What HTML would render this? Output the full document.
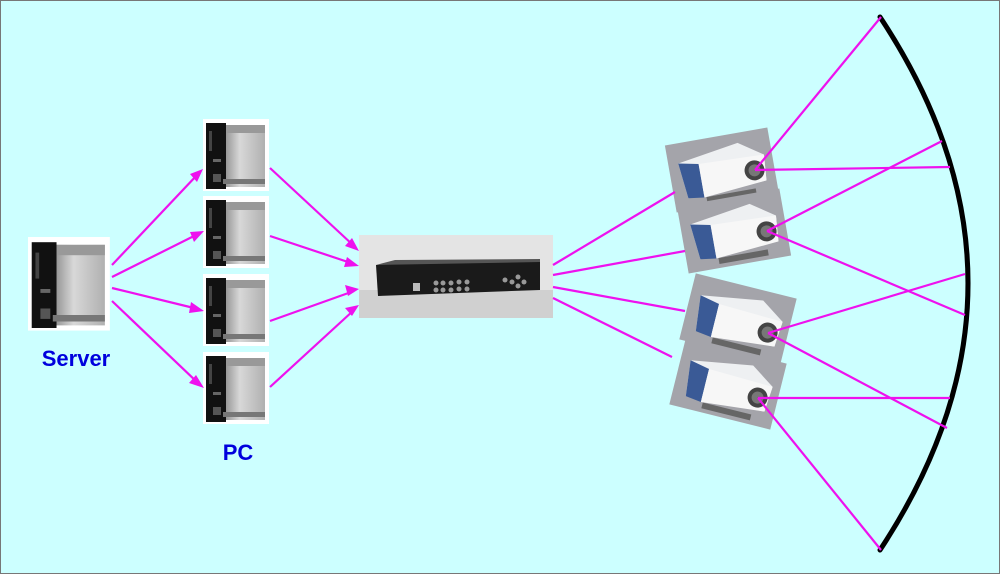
<!DOCTYPE html>
<html><head><meta charset="utf-8"><style>
html,body{margin:0;padding:0;background:#ccffff;}
svg{display:block;}
</style></head><body>
<svg width="1000" height="574" viewBox="0 0 1000 574" xmlns="http://www.w3.org/2000/svg">
<defs>
<linearGradient id="silver" x1="0" x2="1" y1="0" y2="0">
<stop offset="0" stop-color="#8a8a8a"/><stop offset="0.4" stop-color="#d8d8d8"/><stop offset="1" stop-color="#b0b0b0"/>
</linearGradient>
<g id="pc">
<rect x="0" y="0" width="66" height="72" fill="#fff"/>
<rect x="20" y="6" width="42" height="62" fill="url(#silver)"/>
<rect x="20" y="6" width="42" height="8" fill="#999"/>
<rect x="3" y="4" width="20" height="66" fill="#111"/>
<rect x="6" y="12" width="3" height="20" fill="#444"/>
<rect x="10" y="40" width="8" height="3" fill="#666"/>
<rect x="10" y="55" width="8" height="8" fill="#555"/>
<rect x="20" y="60" width="42" height="5" fill="#777"/>
</g>
<g id="proj">
<rect x="-52" y="-34" width="104" height="68" fill="#a4a4aa"/>
<path d="M-42,-14 L20,-24 L44,-8 L42,18 L-38,22 Z" fill="#eef0f2"/>
<path d="M-42,-14 L-22,-10 L-22,24 L-38,22 Z" fill="#3a5a96"/>
<path d="M-22,-10 L44,-8 L42,18 L-22,24 Z" fill="#f7f7f7"/>
<circle cx="32" cy="6" r="10" fill="#444"/>
<circle cx="32" cy="6" r="6" fill="#777"/>
<rect x="-20" y="24" width="50" height="6" fill="#666"/>
</g>
</defs>
<rect x="0.5" y="0.5" width="999" height="573" fill="#ccffff" stroke="#777" stroke-width="1"/>

<g transform="translate(28,237) scale(1.24,1.3)"><use href="#pc"/></g>
<text x="76" y="366" font-family="Liberation Sans, sans-serif" font-weight="bold" font-size="22" fill="#0000dd" text-anchor="middle">Server</text>

<use href="#pc" x="203" y="119"/>
<use href="#pc" x="203" y="196"/>
<use href="#pc" x="203" y="274"/>
<use href="#pc" x="203" y="352"/>
<text x="238" y="460" font-family="Liberation Sans, sans-serif" font-weight="bold" font-size="22" fill="#0000dd" text-anchor="middle">PC</text>

<rect x="359" y="235" width="194" height="83" fill="#e4e4e4"/>
<rect x="359" y="290" width="194" height="28" fill="#d0d0d0"/>
<path d="M376,265 L395,260 L540,259 L540,270 Z" fill="#555"/>
<path d="M376,265 L540,262 L540,290 L378,296 Z" fill="#1a1a1a"/>
<g fill="#999">
<circle cx="436" cy="283" r="2.5"/><circle cx="443" cy="283" r="2.5"/><circle cx="451" cy="283" r="2.5"/><circle cx="459" cy="282" r="2.5"/><circle cx="467" cy="282" r="2.5"/>
<circle cx="436" cy="290" r="2.5"/><circle cx="443" cy="290" r="2.5"/><circle cx="451" cy="290" r="2.5"/><circle cx="459" cy="289" r="2.5"/><circle cx="467" cy="289" r="2.5"/>
<circle cx="505" cy="280" r="2.5"/><circle cx="518" cy="277" r="2.5"/><circle cx="518" cy="286" r="2.5"/><circle cx="512" cy="282" r="2.5"/><circle cx="524" cy="282" r="2.5"/>
</g>
<rect x="413" y="283" width="7" height="8" fill="#bbb"/>

<g transform="translate(722,170) rotate(-10)"><use href="#proj"/></g>
<g transform="translate(734,231) rotate(-10)"><use href="#proj"/></g>
<g transform="translate(738,319) rotate(14)"><use href="#proj"/></g>
<g transform="translate(728,384) rotate(14)"><use href="#proj"/></g>

<path d="M880,17 Q1056,283 880,550" fill="none" stroke="#000" stroke-width="5" stroke-linecap="round"/>

<g stroke="#ee11ee" stroke-width="2.2" fill="none">
<line x1="112" y1="265" x2="198" y2="174"/>
<line x1="112" y1="277" x2="198" y2="234"/>
<line x1="112" y1="288" x2="198" y2="309"/>
<line x1="112" y1="301" x2="198" y2="383"/>
<line x1="270" y1="168" x2="354" y2="246"/>
<line x1="270" y1="236" x2="354" y2="264"/>
<line x1="270" y1="321" x2="354" y2="291"/>
<line x1="270" y1="387" x2="354" y2="310"/>
<line x1="553" y1="265" x2="675" y2="192"/>
<line x1="553" y1="275" x2="685" y2="251"/>
<line x1="553" y1="287" x2="685" y2="311"/>
<line x1="553" y1="298" x2="672" y2="357"/>
<line x1="755" y1="170" x2="881" y2="17"/>
<line x1="755" y1="170" x2="950" y2="167"/>
<line x1="767" y1="231" x2="942" y2="141"/>
<line x1="767" y1="231" x2="965" y2="315"/>
<line x1="768" y1="333" x2="965" y2="274"/>
<line x1="768" y1="333" x2="947" y2="428"/>
<line x1="758" y1="398" x2="950" y2="398"/>
<line x1="758" y1="398" x2="881" y2="550"/>
</g>
<g fill="#ee11ee">
<polygon points="203,169 190,174 197,182"/>
<polygon points="204,231 190,232 194,242"/>
<polygon points="204,311 191,302 189,313"/>
<polygon points="204,388 196,375 189,383"/>
<polygon points="359,251 352,238 345,246"/>
<polygon points="359,266 347,257 344,267"/>
<polygon points="359,289 345,285 348,296"/>
<polygon points="359,305 345,308 352,316"/>
</g>
</svg>
</body></html>
